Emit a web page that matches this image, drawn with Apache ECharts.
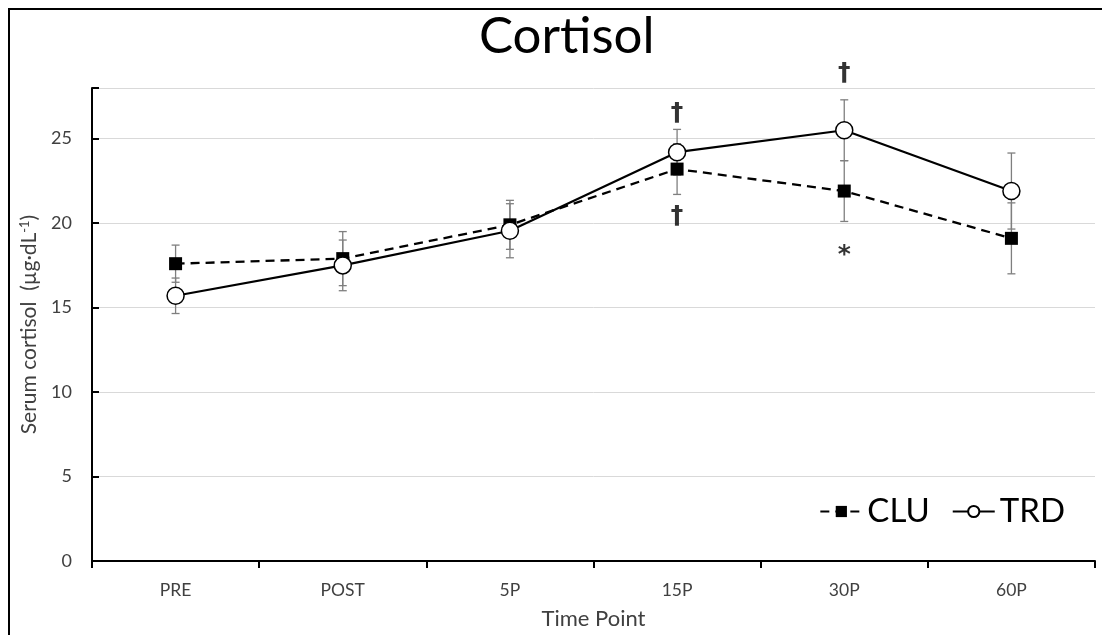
<!DOCTYPE html>
<html>
<head>
<meta charset="utf-8">
<script src="https://cdn.jsdelivr.net/npm/echarts@6/dist/echarts.min.js"></script>
<style>
  html, body { margin: 0; padding: 0; background: #fff; }
  #chart { width: 1102px; height: 635px; }
</style>
</head>
<body>
<div id="chart"></div>
<script>
// Time points on the x axis
const timePoints = ['PRE', 'POST', '5P', '15P', '30P', '60P'];

// Mean serum cortisol (µg·dL⁻¹) and error (±) per group
const cluMean = [17.6, 17.9, 19.9, 23.2, 21.9, 19.1];
const cluErr  = [1.1, 1.6, 1.45, 1.5, 1.8, 2.1];
const trdMean = [15.7, 17.5, 19.55, 24.2, 25.5, 21.9];
const trdErr  = [1.05, 1.5, 1.6, 1.35, 1.8, 2.25];

// Significance marks: [time point, y value where the mark sits, symbol]
const marks = [
  ['15P', 26.5, '†'],
  ['15P', 20.4, '†'],
  ['30P', 28.85, '†'],
  ['30P', 18.1, '*']
];

const yTicks = [0, 5, 10, 15, 20, 25];

const FONT = 'Lato, "Open Sans", sans-serif';
const TEXT = '#404040';

function errorData(mean, err) {
  return mean.map((m, i) => [i, m, err[i]]);
}

function renderErrorBar(params, api) {
  const x = api.value(0);
  const m = api.value(1);
  const e = api.value(2);
  const top = api.coord([x, m + e]);
  const bot = api.coord([x, m - e]);
  const hw = 4;
  const style = { stroke: '#7f7f7f', lineWidth: 1.3 };
  return {
    type: 'group',
    children: [
      { type: 'line', shape: { x1: top[0], y1: top[1], x2: bot[0], y2: bot[1] }, style },
      { type: 'line', shape: { x1: top[0] - hw, y1: top[1], x2: top[0] + hw, y2: top[1] }, style },
      { type: 'line', shape: { x1: bot[0] - hw, y1: bot[1], x2: bot[0] + hw, y2: bot[1] }, style }
    ]
  };
}

const chart = echarts.init(document.getElementById('chart'), null, { renderer: 'canvas' });

chart.setOption({
  animation: false,
  backgroundColor: '#fff',
  textStyle: { fontFamily: FONT },
  title: {
    text: 'Cortisol',
    left: 474,
    top: 6,
    textStyle: { fontFamily: FONT, fontSize: 51, fontWeight: 'normal', color: '#000' }
  },
  graphic: [{
    type: 'rect',
    shape: { x: 9, y: 9, width: 1200, height: 800 },
    style: { fill: 'none', stroke: '#000', lineWidth: 2 },
    silent: true
  }],
  legend: {
    right: 32,
    top: 490,
    itemWidth: 42,
    itemHeight: 14,
    itemGap: 22,
    textStyle: { fontFamily: FONT, fontSize: 33, color: '#000' },
    data: ['CLU', 'TRD']
  },
  grid: { left: 92, right: 7, top: 88, bottom: 74 },
  xAxis: {
    type: 'category',
    data: timePoints,
    boundaryGap: true,
    name: 'Time Point',
    nameLocation: 'middle',
    nameGap: 47,
    nameTextStyle: { fontFamily: FONT, fontSize: 22, color: TEXT },
    axisLine: { lineStyle: { color: '#000', width: 2 } },
    axisTick: { show: true, length: 7, lineStyle: { color: '#000', width: 2 } },
    axisLabel: { fontFamily: FONT, fontSize: 17.5, color: TEXT, margin: 20 },
    splitLine: { show: false }
  },
  yAxis: {
    type: 'value',
    min: 0,
    max: 28,
    interval: 5,
    name: 'Serum cortisol  (µg·dL{sup|-1})',
    nameLocation: 'middle',
    nameGap: 49,
    nameTextStyle: {
      fontFamily: FONT, fontSize: 21, color: TEXT,
      rich: { sup: { fontFamily: FONT, fontSize: 13, color: TEXT, verticalAlign: 'top', padding: [0, 0, 10, 0] } }
    },
    axisLine: { show: true, lineStyle: { color: '#000', width: 2 } },
    axisTick: { show: true, inside: true, length: 7, lineStyle: { color: '#000', width: 2 } },
    axisLabel: {
      fontFamily: FONT, fontSize: 18, color: TEXT, margin: 20,
      formatter: v => (yTicks.includes(v) ? String(v) : '')
    },
    splitLine: { show: true, lineStyle: { color: '#d9d9d9', width: 1 } }
  },
  series: [
    {
      name: 'CLU error',
      type: 'custom',
      renderItem: renderErrorBar,
      data: errorData(cluMean, cluErr),
      z: 1,
      silent: true
    },
    {
      name: 'TRD error',
      type: 'custom',
      renderItem: renderErrorBar,
      data: errorData(trdMean, trdErr),
      z: 1,
      silent: true
    },
    {
      name: 'CLU',
      type: 'line',
      data: cluMean,
      symbol: 'rect',
      symbolSize: 13,
      lineStyle: { color: '#000', width: 2.3, type: [9, 6] },
      itemStyle: { color: '#000', borderColor: '#000', borderWidth: 0 },
      z: 3
    },
    {
      name: 'TRD',
      type: 'line',
      data: trdMean,
      symbol: 'circle',
      symbolSize: 17,
      lineStyle: { color: '#000', width: 2.2 },
      itemStyle: { color: '#fff', borderColor: '#000', borderWidth: 1.5 },
      z: 4
    },
    {
      name: 'marks',
      type: 'scatter',
      clip: false,
      symbolSize: 0,
      data: marks.map(m => ({ value: [m[0], m[1]], mark: m[2] })),
      label: {
        show: true,
        position: 'inside',
        formatter: p => p.data.mark,
        fontFamily: '"DejaVu Sans", sans-serif',
        fontSize: 25,
        fontWeight: 'bold',
        color: '#000'
      },
      silent: true,
      z: 5
    }
  ]
});
</script>
</body>
</html>
